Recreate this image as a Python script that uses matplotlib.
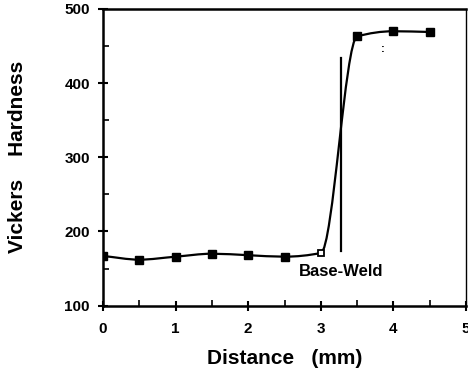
import numpy as np
import matplotlib
matplotlib.use("Agg")
import matplotlib.pyplot as plt
from matplotlib.path import Path
from matplotlib.patches import PathPatch

# hardness traverse across the base / weld boundary
distance = [0.0, 0.5, 1.0, 1.5, 2.0, 2.5, 3.0, 3.5, 4.0, 4.5]
hardness = [167, 162, 166, 170, 168, 166, 171, 463, 470, 469]
open_points = [3.0]  # the one hollow marker

boundary_x = 3.28
boundary_y = (173, 434)
boundary_label = "Base-Weld"

xticks = [0, 1, 2, 3, 4, 5]
yticks = [100, 200, 300, 400, 500]

plt.rcParams["font.family"] = ["Liberation Sans", "DejaVu Sans"]
plt.rcParams["font.weight"] = "bold"


def pchip_path(xs, ys):
    # monotone cubic through the points, drawn as bezier segments
    xs = np.asarray(xs, float)
    ys = np.asarray(ys, float)
    h = np.diff(xs)
    d = np.diff(ys) / h
    m = np.zeros_like(ys)
    m[0], m[-1] = d[0], d[-1]
    for i in range(1, len(xs) - 1):
        if d[i - 1] * d[i] > 0:
            w1 = 2 * h[i] + h[i - 1]
            w2 = h[i] + 2 * h[i - 1]
            m[i] = (w1 + w2) / (w1 / d[i - 1] + w2 / d[i])
    verts = [(xs[0], ys[0])]
    codes = [Path.MOVETO]
    for i in range(len(xs) - 1):
        verts += [(xs[i] + h[i] / 3, ys[i] + m[i] * h[i] / 3),
                  (xs[i + 1] - h[i] / 3, ys[i + 1] - m[i + 1] * h[i] / 3),
                  (xs[i + 1], ys[i + 1])]
        codes += [Path.CURVE4] * 3
    return Path(verts, codes)


fig = plt.figure(figsize=(4.68, 3.75), dpi=100)
ax = fig.add_axes([0.22, 0.185, 0.776, 0.791])

ax.add_patch(PathPatch(pchip_path(distance, hardness), fill=False,
                       edgecolor="black", lw=1.6, zorder=2))

filled_x = [x for x in distance if x not in open_points]
filled_y = [y for x, y in zip(distance, hardness) if x not in open_points]
open_y = [y for x, y in zip(distance, hardness) if x in open_points]
ax.plot(filled_x, filled_y, ls="none", marker="s", ms=5.5, color="black", zorder=3)
ax.plot(open_points, open_y, ls="none", marker="s", ms=5, mfc="white",
        mec="black", mew=1.3, zorder=3)

ax.plot([boundary_x, boundary_x], boundary_y, color="black", lw=1.6)
ax.text(boundary_x, 146, boundary_label, ha="center", va="center",
        fontsize=12, fontweight="bold")
ax.text(3.85, 446, ":", ha="center", va="center", fontsize=8, fontweight="bold")

ax.set_xlim(0, 5)
ax.set_ylim(100, 500)
ax.set_xticks(xticks)
ax.set_yticks(yticks)
ax.set_xticks(np.arange(0.5, 5, 1.0), minor=True)
ax.set_yticks([150, 250, 350, 450], minor=True)
ax.tick_params(which="major", direction="inout", length=7, width=1.5,
               labelsize=11)
ax.tick_params(axis="x", which="major", pad=8)
ax.tick_params(axis="y", which="major", pad=6)
ax.tick_params(which="minor", direction="in", length=4, width=1.2)
for lab in ax.get_xticklabels() + ax.get_yticklabels():
    lab.set_fontweight("bold")

for side in ["left", "bottom", "top"]:
    ax.spines[side].set_linewidth(1.8)
ax.spines["right"].set_linewidth(1.0)

ax.set_xlabel("Distance   (mm)", fontsize=15, fontweight="bold", labelpad=10)
ax.set_ylabel("Vickers    Hardness", fontsize=15, fontweight="bold", labelpad=27)

fig.savefig("out.png", dpi=100)
